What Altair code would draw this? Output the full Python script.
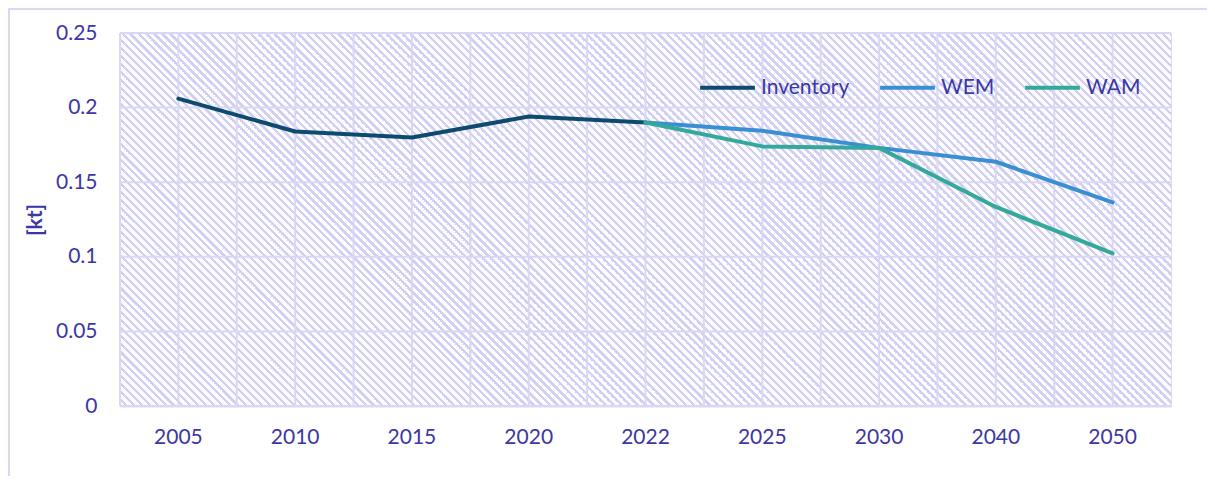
import altair as alt
import pandas as pd

# ---- data ----
years = ["2005", "2010", "2015", "2020", "2022", "2025", "2030", "2040", "2050"]
inventory_years = ["2005", "2010", "2015", "2020", "2022"]
inventory_vals = [0.206, 0.184, 0.180, 0.194, 0.190]
proj_years = ["2022", "2025", "2030", "2040", "2050"]
wem_vals = [0.190, 0.1845, 0.173, 0.1637, 0.1365]
wam_vals = [0.190, 0.174, 0.173, 0.1334, 0.1023]
y_ticks = [0, 0.05, 0.1, 0.15, 0.2, 0.25]
series = ["Inventory", "WEM", "WAM"]
series_colors = ["#0c4a6e", "#3a8fd2", "#34a99b"]

rows = []
for y, v in zip(inventory_years, inventory_vals):
    rows.append({"year": y, "value": v, "series": "Inventory"})
for y, v in zip(proj_years, wem_vals):
    rows.append({"year": y, "value": v, "series": "WEM"})
for y, v in zip(proj_years, wam_vals):
    rows.append({"year": y, "value": v, "series": "WAM"})
df = pd.DataFrame(rows)
years_df = pd.DataFrame({"year": years})
ticks_df = pd.DataFrame({"value": y_ticks})

# ---- style ----
W, H = 1051, 373
TEXT = "#3b37a6"
GRID = "#d9d7f4"
FONT = "Lato"
FS = 21

# hatch background (diagonal stripes) as a linear gradient on a square rect
stripe = "#d1cff3"
bg = "#fdfdff"
n_periods = 264
S = 4 * n_periods  # square side so that the horizontal period is exactly 8 px
frac = 0.4
stops = []
for k in range(n_periods):
    a = k / n_periods
    b = (k + frac) / n_periods
    c = (k + 1) / n_periods
    stops += [
        alt.GradientStop(color=stripe, offset=a),
        alt.GradientStop(color=stripe, offset=b),
        alt.GradientStop(color=bg, offset=b),
        alt.GradientStop(color=bg, offset=c),
    ]
hatch = alt.Gradient(gradient="linear", stops=stops, x1=0, y1=1, x2=1, y2=0)

xscale = alt.Scale(type="band", paddingInner=0, paddingOuter=0, domain=years)
yscale = alt.Scale(domain=[0, 0.25])

x_axis = alt.Axis(
    labelAngle=0, grid=False, ticks=False, tickSize=0, domain=True,
    domainColor=GRID, domainWidth=2, labelPadding=20,
    labelFontSize=FS, labelColor=TEXT, labelFont=FONT, title=None, zindex=1,
)
y_axis = alt.Axis(
    values=y_ticks, format="~g", grid=False, ticks=False, tickSize=0,
    domain=False, labelPadding=23, labelFontSize=FS, labelColor=TEXT,
    labelFont=FONT, titleFontSize=FS, titleFont=FONT, titleColor=TEXT,
    titleFontWeight="bold", titlePadding=10, title="[kt]", zindex=1,
)

one = alt.Data(values=[{"a": 1}])
frame_left = alt.Chart(one).mark_rule(color=GRID, strokeWidth=2).encode(
    x=alt.value(-111), y=alt.value(-24), y2=alt.value(H + 200)
)
frame_top = alt.Chart(one).mark_rule(color=GRID, strokeWidth=2).encode(
    x=alt.value(-112), x2=alt.value(W + 200), y=alt.value(-24)
)

back = alt.Chart(one).mark_rect(fill=hatch, clip=True).encode(
    x=alt.value(0), x2=alt.value(S), y=alt.value(0), y2=alt.value(S)
)

vgrid_c = alt.Chart(years_df).mark_rule(color=GRID, strokeWidth=2).encode(
    x=alt.X("year:O", scale=xscale, bandPosition=0.5, axis=x_axis)
)
vgrid_b = alt.Chart(years_df).mark_rule(color=GRID, strokeWidth=2).encode(
    x=alt.X("year:O", scale=xscale, bandPosition=0, axis=x_axis)
)
hgrid = alt.Chart(ticks_df).mark_rule(color=GRID, strokeWidth=2).encode(
    y=alt.Y("value:Q", scale=yscale, axis=y_axis)
)

lines = alt.Chart(df).mark_line(strokeWidth=4, strokeCap="round", strokeJoin="round").encode(
    x=alt.X("year:O", scale=xscale, bandPosition=0.5, axis=x_axis),
    y=alt.Y("value:Q", scale=yscale, axis=y_axis),
    color=alt.Color(
        "series:N",
        scale=alt.Scale(domain=series, range=series_colors),
        legend=alt.Legend(
            title=None, orient="none", direction="horizontal",
            legendX=578, legendY=25, symbolType="stroke", symbolSize=3000,
            symbolStrokeWidth=4, labelFontSize=FS, labelFont=FONT,
            labelColor=TEXT, labelOffset=4, columnPadding=22,
        ),
    ),
    order=alt.Order("series:N"),
)

chart = alt.layer(frame_left, frame_top, back, vgrid_b, vgrid_c, hgrid, lines).properties(
    width=W, height=H,
    autosize=alt.AutoSizeParams(type="none"),
    padding={"left": 112, "top": 25, "right": 36, "bottom": 70},
).configure_view(stroke=GRID, strokeWidth=2).configure(background="white")

chart.save("out.html", embed_options={"renderer": "svg", "actions": False})
